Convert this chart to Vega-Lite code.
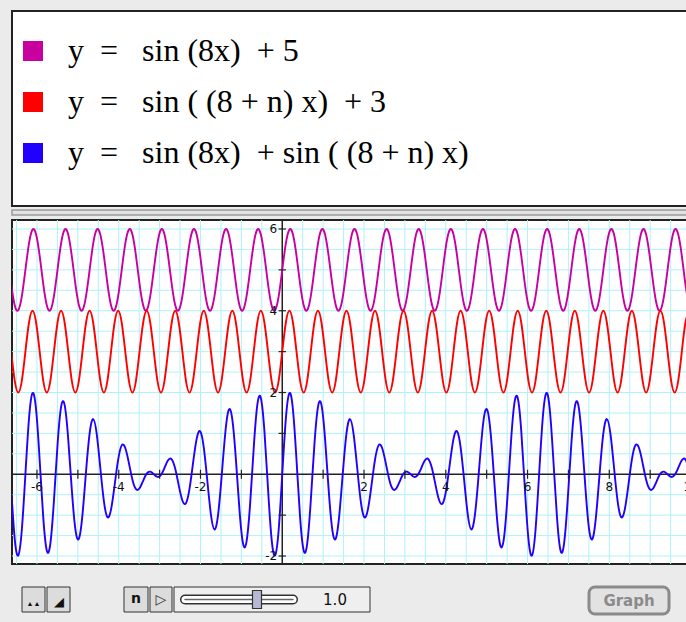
{
"$schema": "https://vega.github.io/schema/vega-lite/v6.json",
"background": "#ebebeb",
"padding": {"left": 10, "top": 10, "right": 0, "bottom": 10},
"spacing": 2,
"config": {
  "view": {"fill": null, "stroke": null}
},
"vconcat": [
{
  "width": 676, "height": 195,
  "layer": [
    {
      "data": {"values": [{}]},
      "mark": {"type": "rect", "fill": "white", "stroke": "#222", "strokeWidth": 2},
      "encoding": {}
    },
    {
      "data": {"values": [
        {"eq": "y\u00a0\u00a0=\u00a0\u00a0\u00a0sin\u00a0(8x)\u00a0\u00a0+\u00a05"},
        {"eq": "y\u00a0\u00a0=\u00a0\u00a0\u00a0sin\u00a0(\u00a0(8\u00a0+\u00a0n)\u00a0x)\u00a0\u00a0+\u00a03"},
        {"eq": "y\u00a0\u00a0=\u00a0\u00a0\u00a0sin\u00a0(8x)\u00a0\u00a0+\u00a0sin\u00a0(\u00a0(8\u00a0+\u00a0n)\u00a0x)"}
      ]},
      "mark": {"type": "point", "shape": "square", "filled": true, "opacity": 0},
      "encoding": {
        "color": {"field": "eq", "type": "nominal", "sort": null,
          "scale": {"domain": [
            "y\u00a0\u00a0=\u00a0\u00a0\u00a0sin\u00a0(8x)\u00a0\u00a0+\u00a05",
            "y\u00a0\u00a0=\u00a0\u00a0\u00a0sin\u00a0(\u00a0(8\u00a0+\u00a0n)\u00a0x)\u00a0\u00a0+\u00a03",
            "y\u00a0\u00a0=\u00a0\u00a0\u00a0sin\u00a0(8x)\u00a0\u00a0+\u00a0sin\u00a0(\u00a0(8\u00a0+\u00a0n)\u00a0x)"
          ], "range": ["#c800a0", "#ff0000", "#2200ff"]},
          "legend": {"orient": "none", "legendX": 5, "legendY": 24, "title": null,
            "symbolType": "square", "symbolSize": 400, "symbolOpacity": 1, "symbolStrokeWidth": 0,
            "labelFont": "Liberation Serif", "labelFontSize": 32, "labelColor": "black",
            "labelOffset": 19, "rowPadding": 19, "labelLimit": 640, "padding": 0}
        }
      }
    }
  ]
},
{
  "width": 676, "height": 5,
  "data": {"values": [{}]},
  "mark": {"type": "rect", "fill": "#e2e2e2", "stroke": "#9a9a9a", "strokeWidth": 1.5},
  "encoding": {}
},
{
  "width": 676, "height": 344,
  "view": {"fill": "white", "stroke": "#222", "strokeWidth": 2},
  "data": {"values": [
{"x":-6.632,"m":4.658,"r":3,"b":-0.342},
{"x":-6.545,"m":4.134,"r":2.293,"b":-1.573},
{"x":-6.458,"m":4.015,"r":2,"b":-1.985},
{"x":-6.370,"m":4.357,"r":2.293,"b":-1.35},
{"x":-6.283,"m":5,"r":3,"b":0},
{"x":-6.196,"m":5.643,"r":3.707,"b":1.35},
{"x":-6.109,"m":5.985,"r":4,"b":1.985},
{"x":-6.021,"m":5.866,"r":3.707,"b":1.573},
{"x":-5.934,"m":5.342,"r":3,"b":0.342},
{"x":-5.847,"m":4.658,"r":2.293,"b":-1.049},
{"x":-5.760,"m":4.134,"r":2,"b":-1.866},
{"x":-5.672,"m":4.015,"r":2.293,"b":-1.692},
{"x":-5.585,"m":4.357,"r":3,"b":-0.643},
{"x":-5.498,"m":5,"r":3.707,"b":0.707},
{"x":-5.411,"m":5.643,"r":4,"b":1.643},
{"x":-5.323,"m":5.985,"r":3.707,"b":1.692},
{"x":-5.236,"m":5.866,"r":3,"b":0.866},
{"x":-5.149,"m":5.342,"r":2.293,"b":-0.365},
{"x":-5.061,"m":4.658,"r":2,"b":-1.342},
{"x":-4.974,"m":4.134,"r":2.293,"b":-1.573},
{"x":-4.887,"m":4.015,"r":3,"b":-0.985},
{"x":-4.800,"m":4.357,"r":3.707,"b":0.064},
{"x":-4.712,"m":5,"r":4,"b":1},
{"x":-4.625,"m":5.643,"r":3.707,"b":1.35},
{"x":-4.538,"m":5.985,"r":3,"b":0.985},
{"x":-4.451,"m":5.866,"r":2.293,"b":0.159},
{"x":-4.363,"m":5.342,"r":2,"b":-0.658},
{"x":-4.276,"m":4.658,"r":2.293,"b":-1.049},
{"x":-4.189,"m":4.134,"r":3,"b":-0.866},
{"x":-4.102,"m":4.015,"r":3.707,"b":-0.278},
{"x":-4.014,"m":4.357,"r":4,"b":0.357},
{"x":-3.927,"m":5,"r":3.707,"b":0.707},
{"x":-3.840,"m":5.643,"r":3,"b":0.643},
{"x":-3.752,"m":5.985,"r":2.293,"b":0.278},
{"x":-3.665,"m":5.866,"r":2,"b":-0.134},
{"x":-3.578,"m":5.342,"r":2.293,"b":-0.365},
{"x":-3.491,"m":4.658,"r":3,"b":-0.342},
{"x":-3.403,"m":4.134,"r":3.707,"b":-0.159},
{"x":-3.316,"m":4.015,"r":4,"b":0.015},
{"x":-3.229,"m":4.357,"r":3.707,"b":0.064},
{"x":-3.142,"m":5,"r":3,"b":0},
{"x":-3.054,"m":5.643,"r":2.293,"b":-0.064},
{"x":-2.967,"m":5.985,"r":2,"b":-0.015},
{"x":-2.880,"m":5.866,"r":2.293,"b":0.159},
{"x":-2.793,"m":5.342,"r":3,"b":0.342},
{"x":-2.705,"m":4.658,"r":3.707,"b":0.365},
{"x":-2.618,"m":4.134,"r":4,"b":0.134},
{"x":-2.531,"m":4.015,"r":3.707,"b":-0.278},
{"x":-2.443,"m":4.357,"r":3,"b":-0.643},
{"x":-2.356,"m":5,"r":2.293,"b":-0.707},
{"x":-2.269,"m":5.643,"r":2,"b":-0.357},
{"x":-2.182,"m":5.985,"r":2.293,"b":0.278},
{"x":-2.094,"m":5.866,"r":3,"b":0.866},
{"x":-2.007,"m":5.342,"r":3.707,"b":1.049},
{"x":-1.920,"m":4.658,"r":4,"b":0.658},
{"x":-1.833,"m":4.134,"r":3.707,"b":-0.159},
{"x":-1.745,"m":4.015,"r":3,"b":-0.985},
{"x":-1.658,"m":4.357,"r":2.293,"b":-1.35},
{"x":-1.571,"m":5,"r":2,"b":-1},
{"x":-1.484,"m":5.643,"r":2.293,"b":-0.064},
{"x":-1.396,"m":5.985,"r":3,"b":0.985},
{"x":-1.309,"m":5.866,"r":3.707,"b":1.573},
{"x":-1.222,"m":5.342,"r":4,"b":1.342},
{"x":-1.134,"m":4.658,"r":3.707,"b":0.365},
{"x":-1.047,"m":4.134,"r":3,"b":-0.866},
{"x":-0.960,"m":4.015,"r":2.293,"b":-1.692},
{"x":-0.873,"m":4.357,"r":2,"b":-1.643},
{"x":-0.785,"m":5,"r":2.293,"b":-0.707},
{"x":-0.698,"m":5.643,"r":3,"b":0.643},
{"x":-0.611,"m":5.985,"r":3.707,"b":1.692},
{"x":-0.524,"m":5.866,"r":4,"b":1.866},
{"x":-0.436,"m":5.342,"r":3.707,"b":1.049},
{"x":-0.349,"m":4.658,"r":3,"b":-0.342},
{"x":-0.262,"m":4.134,"r":2.293,"b":-1.573},
{"x":-0.175,"m":4.015,"r":2,"b":-1.985},
{"x":-0.087,"m":4.357,"r":2.293,"b":-1.35},
{"x":0,"m":5,"r":3,"b":0},
{"x":0.087,"m":5.643,"r":3.707,"b":1.35},
{"x":0.175,"m":5.985,"r":4,"b":1.985},
{"x":0.262,"m":5.866,"r":3.707,"b":1.573},
{"x":0.349,"m":5.342,"r":3,"b":0.342},
{"x":0.436,"m":4.658,"r":2.293,"b":-1.049},
{"x":0.524,"m":4.134,"r":2,"b":-1.866},
{"x":0.611,"m":4.015,"r":2.293,"b":-1.692},
{"x":0.698,"m":4.357,"r":3,"b":-0.643},
{"x":0.785,"m":5,"r":3.707,"b":0.707},
{"x":0.873,"m":5.643,"r":4,"b":1.643},
{"x":0.960,"m":5.985,"r":3.707,"b":1.692},
{"x":1.047,"m":5.866,"r":3,"b":0.866},
{"x":1.134,"m":5.342,"r":2.293,"b":-0.365},
{"x":1.222,"m":4.658,"r":2,"b":-1.342},
{"x":1.309,"m":4.134,"r":2.293,"b":-1.573},
{"x":1.396,"m":4.015,"r":3,"b":-0.985},
{"x":1.484,"m":4.357,"r":3.707,"b":0.064},
{"x":1.571,"m":5,"r":4,"b":1},
{"x":1.658,"m":5.643,"r":3.707,"b":1.35},
{"x":1.745,"m":5.985,"r":3,"b":0.985},
{"x":1.833,"m":5.866,"r":2.293,"b":0.159},
{"x":1.920,"m":5.342,"r":2,"b":-0.658},
{"x":2.007,"m":4.658,"r":2.293,"b":-1.049},
{"x":2.094,"m":4.134,"r":3,"b":-0.866},
{"x":2.182,"m":4.015,"r":3.707,"b":-0.278},
{"x":2.269,"m":4.357,"r":4,"b":0.357},
{"x":2.356,"m":5,"r":3.707,"b":0.707},
{"x":2.443,"m":5.643,"r":3,"b":0.643},
{"x":2.531,"m":5.985,"r":2.293,"b":0.278},
{"x":2.618,"m":5.866,"r":2,"b":-0.134},
{"x":2.705,"m":5.342,"r":2.293,"b":-0.365},
{"x":2.793,"m":4.658,"r":3,"b":-0.342},
{"x":2.880,"m":4.134,"r":3.707,"b":-0.159},
{"x":2.967,"m":4.015,"r":4,"b":0.015},
{"x":3.054,"m":4.357,"r":3.707,"b":0.064},
{"x":3.142,"m":5,"r":3,"b":0},
{"x":3.229,"m":5.643,"r":2.293,"b":-0.064},
{"x":3.316,"m":5.985,"r":2,"b":-0.015},
{"x":3.403,"m":5.866,"r":2.293,"b":0.159},
{"x":3.491,"m":5.342,"r":3,"b":0.342},
{"x":3.578,"m":4.658,"r":3.707,"b":0.365},
{"x":3.665,"m":4.134,"r":4,"b":0.134},
{"x":3.752,"m":4.015,"r":3.707,"b":-0.278},
{"x":3.840,"m":4.357,"r":3,"b":-0.643},
{"x":3.927,"m":5,"r":2.293,"b":-0.707},
{"x":4.014,"m":5.643,"r":2,"b":-0.357},
{"x":4.102,"m":5.985,"r":2.293,"b":0.278},
{"x":4.189,"m":5.866,"r":3,"b":0.866},
{"x":4.276,"m":5.342,"r":3.707,"b":1.049},
{"x":4.363,"m":4.658,"r":4,"b":0.658},
{"x":4.451,"m":4.134,"r":3.707,"b":-0.159},
{"x":4.538,"m":4.015,"r":3,"b":-0.985},
{"x":4.625,"m":4.357,"r":2.293,"b":-1.35},
{"x":4.712,"m":5,"r":2,"b":-1},
{"x":4.800,"m":5.643,"r":2.293,"b":-0.064},
{"x":4.887,"m":5.985,"r":3,"b":0.985},
{"x":4.974,"m":5.866,"r":3.707,"b":1.573},
{"x":5.061,"m":5.342,"r":4,"b":1.342},
{"x":5.149,"m":4.658,"r":3.707,"b":0.365},
{"x":5.236,"m":4.134,"r":3,"b":-0.866},
{"x":5.323,"m":4.015,"r":2.293,"b":-1.692},
{"x":5.411,"m":4.357,"r":2,"b":-1.643},
{"x":5.498,"m":5,"r":2.293,"b":-0.707},
{"x":5.585,"m":5.643,"r":3,"b":0.643},
{"x":5.672,"m":5.985,"r":3.707,"b":1.692},
{"x":5.760,"m":5.866,"r":4,"b":1.866},
{"x":5.847,"m":5.342,"r":3.707,"b":1.049},
{"x":5.934,"m":4.658,"r":3,"b":-0.342},
{"x":6.021,"m":4.134,"r":2.293,"b":-1.573},
{"x":6.109,"m":4.015,"r":2,"b":-1.985},
{"x":6.196,"m":4.357,"r":2.293,"b":-1.35},
{"x":6.283,"m":5,"r":3,"b":0},
{"x":6.370,"m":5.643,"r":3.707,"b":1.35},
{"x":6.458,"m":5.985,"r":4,"b":1.985},
{"x":6.545,"m":5.866,"r":3.707,"b":1.573},
{"x":6.632,"m":5.342,"r":3,"b":0.342},
{"x":6.720,"m":4.658,"r":2.293,"b":-1.049},
{"x":6.807,"m":4.134,"r":2,"b":-1.866},
{"x":6.894,"m":4.015,"r":2.293,"b":-1.692},
{"x":6.981,"m":4.357,"r":3,"b":-0.643},
{"x":7.069,"m":5,"r":3.707,"b":0.707},
{"x":7.156,"m":5.643,"r":4,"b":1.643},
{"x":7.243,"m":5.985,"r":3.707,"b":1.692},
{"x":7.330,"m":5.866,"r":3,"b":0.866},
{"x":7.418,"m":5.342,"r":2.293,"b":-0.365},
{"x":7.505,"m":4.658,"r":2,"b":-1.342},
{"x":7.592,"m":4.134,"r":2.293,"b":-1.573},
{"x":7.679,"m":4.015,"r":3,"b":-0.985},
{"x":7.767,"m":4.357,"r":3.707,"b":0.064},
{"x":7.854,"m":5,"r":4,"b":1},
{"x":7.941,"m":5.643,"r":3.707,"b":1.35},
{"x":8.029,"m":5.985,"r":3,"b":0.985},
{"x":8.116,"m":5.866,"r":2.293,"b":0.159},
{"x":8.203,"m":5.342,"r":2,"b":-0.658},
{"x":8.290,"m":4.658,"r":2.293,"b":-1.049},
{"x":8.378,"m":4.134,"r":3,"b":-0.866},
{"x":8.465,"m":4.015,"r":3.707,"b":-0.278},
{"x":8.552,"m":4.357,"r":4,"b":0.357},
{"x":8.639,"m":5,"r":3.707,"b":0.707},
{"x":8.727,"m":5.643,"r":3,"b":0.643},
{"x":8.814,"m":5.985,"r":2.293,"b":0.278},
{"x":8.901,"m":5.866,"r":2,"b":-0.134},
{"x":8.988,"m":5.342,"r":2.293,"b":-0.365},
{"x":9.076,"m":4.658,"r":3,"b":-0.342},
{"x":9.163,"m":4.134,"r":3.707,"b":-0.159},
{"x":9.250,"m":4.015,"r":4,"b":0.015},
{"x":9.338,"m":4.357,"r":3.707,"b":0.064},
{"x":9.425,"m":5,"r":3,"b":0},
{"x":9.512,"m":5.643,"r":2.293,"b":-0.064},
{"x":9.599,"m":5.985,"r":2,"b":-0.015},
{"x":9.687,"m":5.866,"r":2.293,"b":0.159},
{"x":9.774,"m":5.342,"r":3,"b":0.342},
{"x":9.861,"m":4.658,"r":3.707,"b":0.365},
{"x":9.948,"m":4.134,"r":4,"b":0.134}
  ]},
  "layer": [
    {
      "data": {"values": [{"g":-6.5},{"g":-6},{"g":-5.5},{"g":-5},{"g":-4.5},{"g":-4},{"g":-3.5},{"g":-3},{"g":-2.5},{"g":-2},{"g":-1.5},{"g":-1},{"g":-0.5},{"g":0.5},{"g":1},{"g":1.5},{"g":2},{"g":2.5},{"g":3},{"g":3.5},{"g":4},{"g":4.5},{"g":5},{"g":5.5},{"g":6},{"g":6.5},{"g":7},{"g":7.5},{"g":8},{"g":8.5},{"g":9},{"g":9.5}]},
      "mark": {"type": "rule", "color": "#aef2fa", "strokeWidth": 1},
      "encoding": {
        "x": {"field": "g", "type": "quantitative",
          "scale": {"domain": [-6.611, 9.925], "nice": false, "zero": false}, "axis": null}
      }
    },
    {
      "data": {"values": [{"g":-2},{"g":-1.5},{"g":-1},{"g":-0.5},{"g":0.5},{"g":1},{"g":1.5},{"g":2},{"g":2.5},{"g":3},{"g":3.5},{"g":4},{"g":4.5},{"g":5},{"g":5.5},{"g":6}]},
      "mark": {"type": "rule", "color": "#aef2fa", "strokeWidth": 1},
      "encoding": {
        "y": {"field": "g", "type": "quantitative",
          "scale": {"domain": [-2.195, 6.22], "nice": false, "zero": false}, "axis": null}
      }
    },
    {
      "data": {"values": [{}]},
      "mark": {"type": "rule", "color": "#222", "strokeWidth": 1.5},
      "encoding": {"y": {"datum": 0, "type": "quantitative", "axis": null}}
    },
    {
      "data": {"values": [{}]},
      "mark": {"type": "rule", "color": "#222", "strokeWidth": 1.5},
      "encoding": {"x": {"datum": 0, "type": "quantitative", "axis": null}}
    },
    {
      "mark": {"type": "line", "color": "#c800a0", "strokeWidth": 1.9, "interpolate": "natural", "clip": true},
      "encoding": {
        "x": {"field": "x", "type": "quantitative", "axis": null},
        "y": {"field": "m", "type": "quantitative", "axis": null}
      }
    },
    {
      "mark": {"type": "line", "color": "#ff0000", "strokeWidth": 1.9, "interpolate": "natural", "clip": true},
      "encoding": {
        "x": {"field": "x", "type": "quantitative", "axis": null},
        "y": {"field": "r", "type": "quantitative", "axis": null}
      }
    },
    {
      "mark": {"type": "line", "color": "#2200ff", "strokeWidth": 1.9, "interpolate": "natural", "clip": true},
      "encoding": {
        "x": {"field": "x", "type": "quantitative", "axis": null},
        "y": {"field": "b", "type": "quantitative", "axis": null}
      }
    },
    {
      "data": {"values": [{"v":-6},{"v":-5},{"v":-4},{"v":-3},{"v":-2},{"v":-1},{"v":1},{"v":2},{"v":3},{"v":4},{"v":5},{"v":6},{"v":7},{"v":8},{"v":9}]},
      "mark": {"type": "rule", "color": "#222", "strokeWidth": 1.2},
      "encoding": {
        "x": {"field": "v", "type": "quantitative", "axis": null},
        "y": {"datum": -0.11, "type": "quantitative", "axis": null},
        "y2": {"datum": 0.11}
      }
    },
    {
      "data": {"values": [{"v":-2},{"v":-1},{"v":1},{"v":2},{"v":3},{"v":4},{"v":5},{"v":6}]},
      "mark": {"type": "rule", "color": "#222", "strokeWidth": 1.2},
      "encoding": {
        "y": {"field": "v", "type": "quantitative", "axis": null},
        "x": {"datum": -0.09, "type": "quantitative", "axis": null},
        "x2": {"datum": 0.09}
      }
    },
    {
      "data": {"values": [{"v":-6,"t":"-6"},{"v":-4,"t":"-4"},{"v":-2,"t":"-2"},{"v":2,"t":"2"},{"v":4,"t":"4"},{"v":6,"t":"6"},{"v":8,"t":"8"},{"v":10,"t":"10"}]},
      "mark": {"type": "text", "font": "DejaVu Sans", "fontSize": 12, "color": "#111", "align": "center", "baseline": "middle", "dy": 13, "clip": true},
      "encoding": {
        "x": {"field": "v", "type": "quantitative", "axis": null},
        "y": {"datum": 0, "type": "quantitative", "axis": null},
        "text": {"field": "t"}
      }
    },
    {
      "data": {"values": [{"v":6,"t":"6"},{"v":4,"t":"4"},{"v":2,"t":"2"},{"v":-2,"t":"-2"}]},
      "mark": {"type": "text", "font": "DejaVu Sans", "fontSize": 12, "color": "#111", "align": "right", "baseline": "middle", "dx": -5},
      "encoding": {
        "y": {"field": "v", "type": "quantitative", "axis": null},
        "x": {"datum": 0, "type": "quantitative", "axis": null},
        "text": {"field": "t"}
      }
    }
  ]
},
{
  "width": 10, "height": 15,
  "data": {"values": [{}]},
  "mark": {"type": "rect", "opacity": 0},
  "encoding": {}
},
{
  "spacing": 0,
  "hconcat": [
    {"width": 9, "height": 26, "data": {"values": [{}]}, "mark": {"type": "rect", "opacity": 0}, "encoding": {}},
    {"width": 23, "height": 25, "data": {"values": [{}]}, "layer": [
      {"mark": {"type": "rect", "fill": "#dcdcdc", "stroke": "#333", "strokeWidth": 1}, "encoding": {}},
      {"mark": {"type": "text", "text": "\u25b2\u25b2", "fontSize": 7, "dy": 4, "color": "#111"}, "encoding": {}}
    ]},
    {"width": 23, "height": 25, "data": {"values": [{}]}, "layer": [
      {"mark": {"type": "rect", "fill": "#dcdcdc", "stroke": "#333", "strokeWidth": 1}, "encoding": {}},
      {"mark": {"type": "text", "text": "\u25e2", "fontSize": 13, "dy": 2, "color": "#111"}, "encoding": {}}
    ]},
    {"width": 52, "height": 26, "data": {"values": [{}]}, "mark": {"type": "rect", "opacity": 0}, "encoding": {}},
    {"width": 24, "height": 25, "data": {"values": [{}]}, "layer": [
      {"mark": {"type": "rect", "fill": "#dcdcdc", "stroke": "#333", "strokeWidth": 1}, "encoding": {}},
      {"mark": {"type": "text", "text": "n", "font": "DejaVu Sans", "fontWeight": "bold", "fontSize": 14, "dy": -1, "color": "#111"}, "encoding": {}}
    ]},
    {"width": 22, "height": 25, "data": {"values": [{}]}, "layer": [
      {"mark": {"type": "rect", "fill": "#dcdcdc", "stroke": "#333", "strokeWidth": 1}, "encoding": {}},
      {"mark": {"type": "text", "text": "\u25b7", "font": "DejaVu Sans", "fontSize": 14, "color": "#333"}, "encoding": {}}
    ]},
    {"width": 196, "height": 25, "data": {"values": [{"n": 1.0}]}, "layer": [
      {"mark": {"type": "rect", "fill": "#efefef", "stroke": "#333", "strokeWidth": 1}, "encoding": {}},
      {"mark": {"type": "rule", "color": "#333", "strokeWidth": 10, "strokeCap": "round"},
        "encoding": {"x": {"datum": -3, "type": "quantitative", "scale": {"domain": [-3, 3], "range": [11, 119]}, "axis": null}, "x2": {"datum": 3}}},
      {"mark": {"type": "rule", "color": "white", "strokeWidth": 7, "strokeCap": "round"},
        "encoding": {"x": {"datum": -3, "type": "quantitative", "axis": null}, "x2": {"datum": 3}}},
      {"mark": {"type": "rule", "color": "#666", "strokeWidth": 1.5, "strokeCap": "round"},
        "encoding": {"x": {"datum": -3, "type": "quantitative", "axis": null}, "x2": {"datum": 3}}},
      {"mark": {"type": "point", "shape": "M-0.5,-1L0.5,-1L0.5,1L-0.5,1Z", "size": 324, "filled": true, "fill": "#b8b8d4", "stroke": "#333", "strokeWidth": 1.2, "opacity": 1},
        "encoding": {"x": {"field": "n", "type": "quantitative", "axis": null}}},
      {"mark": {"type": "text", "font": "DejaVu Sans", "fontSize": 15, "color": "#111", "dx": 63},
        "encoding": {"text": {"field": "n", "type": "quantitative", "format": ".1f"}}}
    ]},
    {"width": 216, "height": 26, "data": {"values": [{}]}, "mark": {"type": "rect", "opacity": 0}, "encoding": {}},
    {"width": 80, "height": 27, "data": {"values": [{}]}, "layer": [
      {"mark": {"type": "rect", "fill": "#e2e2e2", "stroke": "#8a8a8a", "strokeWidth": 3, "cornerRadius": 6}, "encoding": {}},
      {"mark": {"type": "text", "text": "Graph", "font": "DejaVu Sans", "fontWeight": "bold", "fontSize": 15, "color": "#8a8a8a"}, "encoding": {}}
    ]}
  ]
}
]
}
